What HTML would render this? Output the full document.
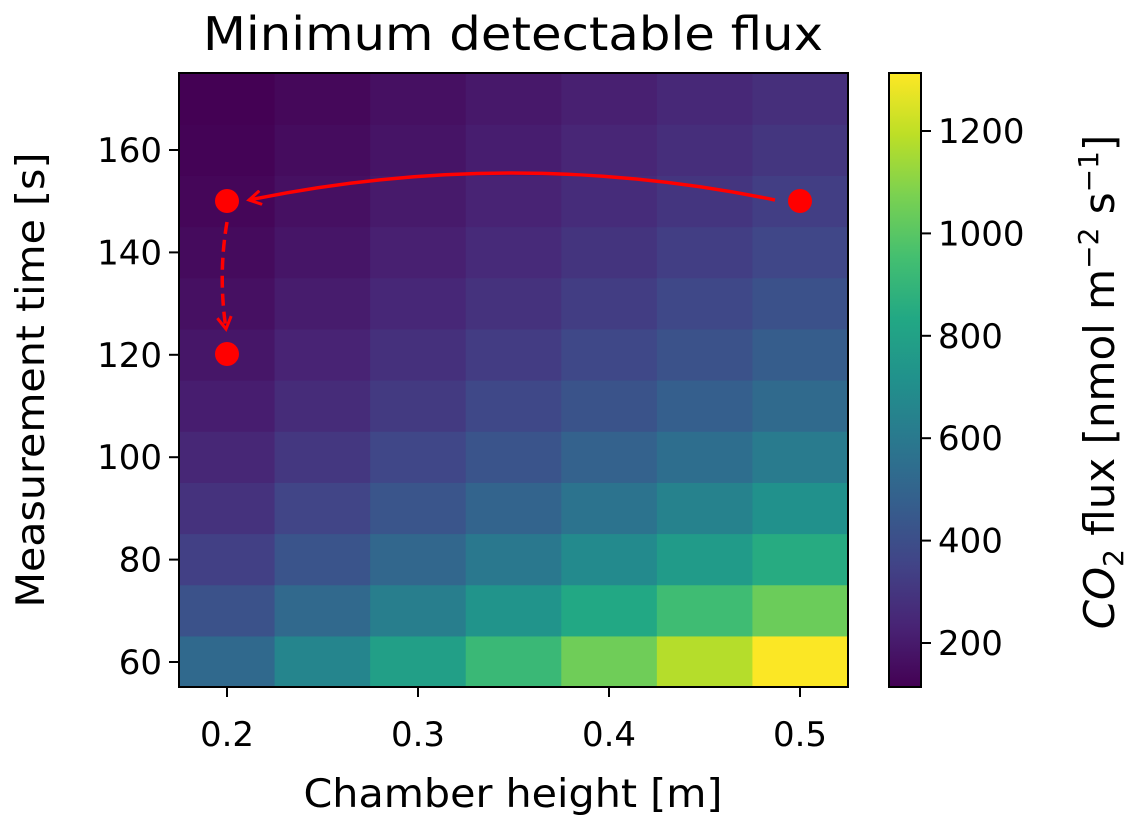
<!DOCTYPE html>
<html><head><meta charset="utf-8"><style>
html,body{margin:0;padding:0;background:#fff;}
text{font-family:"DejaVu Sans","Liberation Sans",sans-serif;fill:#000;}
</style></head><body>
<svg id="s" width="1128" height="827" viewBox="0 0 1128 827" xmlns="http://www.w3.org/2000/svg">
<defs>
<linearGradient id="vg" x1="0" y1="1" x2="0" y2="0">
<stop offset="0" stop-color="#440154"/><stop offset="0.1" stop-color="#482475"/><stop offset="0.2" stop-color="#414487"/><stop offset="0.3" stop-color="#355f8d"/><stop offset="0.4" stop-color="#2a788e"/><stop offset="0.5" stop-color="#21918c"/><stop offset="0.6" stop-color="#22a884"/><stop offset="0.7" stop-color="#44bf70"/><stop offset="0.8" stop-color="#7ad151"/><stop offset="0.9" stop-color="#bddf26"/><stop offset="1" stop-color="#fde725"/>
</linearGradient>
<marker id="ah" markerWidth="16" markerHeight="16" refX="13" refY="8" orient="auto" markerUnits="userSpaceOnUse"><path d="M1,1 L13,8 L1,15" fill="none" stroke="#f00" stroke-width="3"/></marker>
</defs>
<g id="cells"></g>
<rect x="179" y="73" width="669" height="614" fill="none" stroke="#000" stroke-width="2"/>
<rect x="889" y="73" width="32" height="614" fill="url(#vg)" stroke="#000" stroke-width="2"/>
<text x="513" y="50" font-size="46" text-anchor="middle" textLength="620" lengthAdjust="spacingAndGlyphs">Minimum detectable flux</text>
<g id="ticks" font-size="34"></g>
<text x="513" y="807" font-size="39" text-anchor="middle" textLength="419" lengthAdjust="spacingAndGlyphs">Chamber height [m]</text>
<text transform="translate(44,380) rotate(-90)" font-size="39" text-anchor="middle" textLength="455" lengthAdjust="spacingAndGlyphs">Measurement time [s]</text>
<text transform="translate(1114,382) rotate(-90)" font-size="42" text-anchor="middle"><tspan font-style="italic">CO</tspan><tspan font-size="28" dy="9">2</tspan><tspan dy="-9"> flux [nmol m</tspan><tspan font-size="28" dy="-16">−2</tspan><tspan dy="16"> s</tspan><tspan font-size="28" dy="-16">−1</tspan><tspan dy="16">]</tspan></text>
<path d="M775,200 Q512,146 249,200" fill="none" stroke="#f00" stroke-width="3.5" marker-end="url(#ah)"/>
<path d="M227,222 Q218,275 226,329" fill="none" stroke="#f00" stroke-width="3.5" stroke-dasharray="12,6" marker-end="url(#ah)"/>
<circle cx="227" cy="201" r="12" fill="#f00"/>
<circle cx="800" cy="201" r="12" fill="#f00"/>
<circle cx="227" cy="354" r="12" fill="#f00"/>
</svg>
<script>
var V=[[68,1,84],[72,36,117],[65,68,135],[53,95,141],[42,120,142],[33,145,140],[34,168,132],[68,191,112],[122,209,81],[189,223,38],[253,231,37]];
function vir(t){t=Math.max(0,Math.min(1,t));var f=t*10,i=Math.min(9,Math.floor(f)),r=f-i,a=V[i],b=V[i+1];
return "rgb("+a.map(function(v,k){return Math.round(v+(b[k]-v)*r)}).join(",")+")";}
var ns="http://www.w3.org/2000/svg",g=document.getElementById("cells"),tk=document.getElementById("ticks");
var k=1310/(0.5/Math.pow(60,1.5)),vmin=114,vmax=1313;
var cw=669/7,rh=614/12;
for(var i=0;i<7;i++)for(var j=0;j<12;j++){
 var h=0.2+0.05*i,t=60+10*j,v=k*h/Math.pow(t,1.5);
 var r=document.createElementNS(ns,"rect");
 r.setAttribute("x",179+i*cw);r.setAttribute("y",687-(j+1)*rh);
 r.setAttribute("width",cw+0.6);r.setAttribute("height",rh+0.6);
 r.setAttribute("fill",vir((v-vmin)/(vmax-vmin)));g.appendChild(r);}
function line(x1,y1,x2,y2){var l=document.createElementNS(ns,"line");l.setAttribute("x1",x1);l.setAttribute("y1",y1);l.setAttribute("x2",x2);l.setAttribute("y2",y2);l.setAttribute("stroke","#000");l.setAttribute("stroke-width","2");tk.appendChild(l);}
function txt(x,y,s,a){var e=document.createElementNS(ns,"text");e.setAttribute("x",x);e.setAttribute("y",y);e.setAttribute("text-anchor",a);e.textContent=s;tk.appendChild(e);}
[0.2,0.3,0.4,0.5].forEach(function(x){var px=227+(x-0.2)*1910;line(px,687,px,697);txt(px,746,x.toFixed(1),"middle");});
[60,80,100,120,140,160].forEach(function(y){var py=662-(y-60)*5.12;line(169,py,179,py);txt(162,py+12,y,"end");});
[200,400,600,800,1000,1200].forEach(function(c){var py=643-(c-200)*0.512;line(921,py,931,py);txt(938,py+12,c,"start");});
</script>
</body></html>
